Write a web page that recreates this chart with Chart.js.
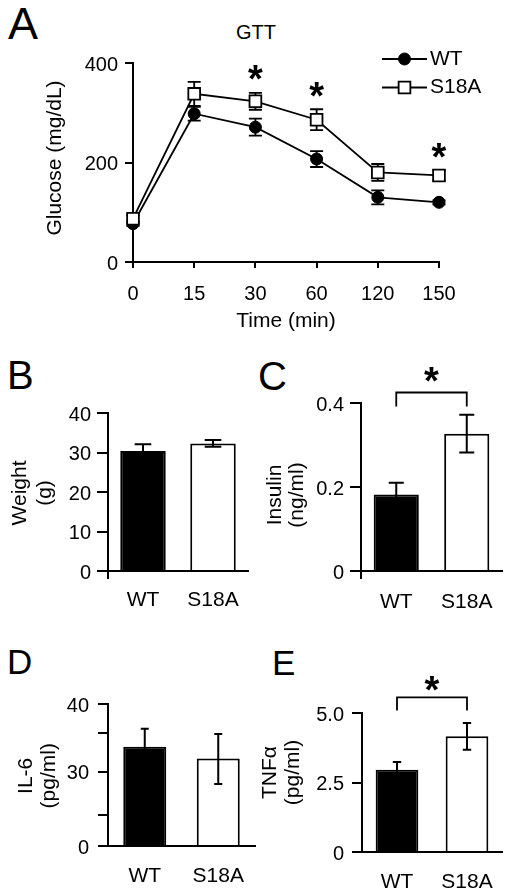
<!DOCTYPE html>
<html><head><meta charset="utf-8">
<script src="https://cdn.jsdelivr.net/npm/chart.js@4.4.1/dist/chart.umd.min.js"></script>
<style>
html,body{margin:0;padding:0;background:#fff;}
body{width:512px;height:889px;position:relative;overflow:hidden;font-family:'Liberation Sans',Arial,sans-serif;}
canvas{position:absolute;}
.lbl{position:absolute;line-height:1;color:#000;white-space:nowrap;}
</style></head><body>
<div class="lbl" style="left:8px;top:1px;font-size:45px">A</div>
<div class="lbl" style="left:7px;top:355px;font-size:40px">B</div>
<div class="lbl" style="left:258px;top:356px;font-size:40px">C</div>
<div class="lbl" style="left:7px;top:644px;font-size:35px">D</div>
<div class="lbl" style="left:272px;top:645px;font-size:35px">E</div>
<div class="lbl" style="left:206px;width:100px;text-align:center;top:22px;font-size:20px">GTT</div>
<script>
// ---- data ----
const timeLabels = ['0', '15', '30', '60', '120', '150'];
const wtGlucose = [77, 298, 271, 207, 130, 120];
const wtGlucoseSem = [5, 14, 17, 16, 14, 4];
const s18aGlucose = [87, 338, 323, 286, 180, 174];
const s18aGlucoseSem = [7, 24, 17, 21, 17, 10];
const glucoseTicks = [0, 200, 400];
const gttSignificant = ['30', '60', '150'];

const groups = ['WT', 'S18A'];
const weight = [30.4, 32.3];
const weightSem = [1.7, 0.85];
const weightTicks = [0, 10, 20, 30, 40];
const weightTickLabels = ['0', '10', '20', '30', '40'];

const insulin = [0.182, 0.327];
const insulinSem = [0.028, 0.045];
const insulinTicks = [0, 0.2, 0.4];
const insulinTickLabels = ['0', '0.2', '0.4'];

const il6 = [33.2, 31.7];
const il6Sem = [2.45, 3.1];
const il6Ticks = [0, 25, 30, 35, 40];
const il6TickLabels = ['0', '', '30', '', '40'];

const tnf = [2.96, 4.16];
const tnfSem = [0.28, 0.48];
const tnfTicks = [0, 2.5, 5];
const tnfTickLabels = ['0', '2.5', '5.0'];

// ---- setup ----
const FONT = "'Liberation Sans', Arial, Helvetica, sans-serif";
Chart.defaults.font.family = FONT;
Chart.defaults.font.size = 20;
Chart.defaults.color = '#000';

const LinearScale = Chart.LinearScale || Chart.registry.getScale('linear');
class SegmentedScale extends LinearScale {
  getPixelForValue(value) {
    if (value === null || isNaN(value)) return NaN;
    const k = this.options.knots, f = this.options.knotFractions;
    let i = 1;
    while (i < k.length - 1 && value > k[i]) i++;
    const dec = f[i - 1] + (value - k[i - 1]) / (k[i] - k[i - 1]) * (f[i] - f[i - 1]);
    return this.getPixelForDecimal(dec);
  }
  getValueForPixel(pixel) {
    const k = this.options.knots, f = this.options.knotFractions;
    const dec = this.getDecimalForPixel(pixel);
    let i = 1;
    while (i < f.length - 1 && dec > f[i]) i++;
    return k[i - 1] + (dec - f[i - 1]) / (f[i] - f[i - 1]) * (k[i] - k[i - 1]);
  }
}
SegmentedScale.id = 'segmented';
SegmentedScale.defaults = LinearScale.defaults;
Chart.register(SegmentedScale);

function drawStar(ctx, x, cy, size) {
  ctx.save();
  ctx.font = 'bold ' + size + 'px ' + FONT;
  ctx.fillStyle = '#000';
  ctx.textAlign = 'center';
  ctx.textBaseline = 'alphabetic';
  const m = ctx.measureText('*');
  const base = cy + (m.actualBoundingBoxAscent - m.actualBoundingBoxDescent) / 2;
  ctx.fillText('*', x, base);
  ctx.restore();
}

function drawErrorBars(chart, o) {
  const ctx = chart.ctx;
  chart.data.datasets.forEach((ds, di) => {
    if (!ds.sem) return;
    const meta = chart.getDatasetMeta(di);
    const ys = chart.scales[meta.yAxisID];
    meta.data.forEach((el, i) => {
      const v = ds.data[i], e = ds.sem[i];
      const x = el.x;
      const yT = ys.getPixelForValue(v + e), yB = ys.getPixelForValue(v - e);
      ctx.save();
      ctx.strokeStyle = '#000';
      ctx.lineWidth = o.lineWidth;
      ctx.beginPath();
      ctx.moveTo(x, yT); ctx.lineTo(x, yB);
      ctx.moveTo(x - o.capHalf, yT); ctx.lineTo(x + o.capHalf, yT);
      ctx.moveTo(x - o.capHalf, yB); ctx.lineTo(x + o.capHalf, yB);
      ctx.stroke();
      ctx.restore();
    });
  });
}
const errorBarsPlugin = {
  id: 'errorBars',
  beforeDatasetsDraw(chart, args, o) { if (o && o.phase === 'before') drawErrorBars(chart, o); },
  afterDatasetsDraw(chart, args, o) { if (o && o.phase === 'after') drawErrorBars(chart, o); }
};

const yTitlePlugin = {
  id: 'yTitle',
  afterDraw(chart, args, o) {
    if (!o || !o.lines) return;
    const ctx = chart.ctx;
    ctx.save();
    ctx.font = o.size + 'px ' + FONT;
    ctx.fillStyle = '#000';
    ctx.textAlign = 'center';
    ctx.textBaseline = 'middle';
    o.lines.forEach((t, i) => {
      ctx.save();
      ctx.translate(o.xs[i], o.y);
      ctx.rotate(-Math.PI / 2);
      ctx.fillText(t, 0, 0);
      ctx.restore();
    });
    ctx.restore();
  }
};

// axis decorations built per chart (closure values, no option resolver involved)
function makeAxisExtrasPlugin(extendLen, minorValues, tickLen) {
  return {
    id: 'axisExtras',
    afterDraw(chart) {
      const a = chart.chartArea, ctx = chart.ctx, ys = chart.scales.y;
      const x = Math.round(a.left);
      ctx.save();
      ctx.strokeStyle = '#000';
      ctx.lineWidth = 2;
      ctx.beginPath();
      if (extendLen > 0) {
        ctx.moveTo(x, a.bottom);
        ctx.lineTo(x, a.bottom + extendLen);
      }
      minorValues.forEach(v => {
        const y = Math.round(ys.getPixelForValue(v));
        ctx.moveTo(x - tickLen, y);
        ctx.lineTo(x, y);
      });
      ctx.stroke();
      ctx.restore();
    }
  };
}

const bracketPlugin = {
  id: 'bracket',
  afterDraw(chart, args, o) {
    if (!o || o.level === undefined) return;
    const ctx = chart.ctx;
    const meta = chart.getDatasetMeta(0);
    const ys = chart.scales.y;
    const x0 = meta.data[0].x, x1 = meta.data[1].x;
    const y = ys.getPixelForValue(o.level);
    ctx.save();
    ctx.strokeStyle = '#000';
    ctx.lineWidth = 1.8;
    ctx.beginPath();
    ctx.moveTo(x0, y + o.legs); ctx.lineTo(x0, y); ctx.lineTo(x1, y); ctx.lineTo(x1, y + o.legs);
    ctx.stroke();
    ctx.restore();
    drawStar(ctx, (x0 + x1) / 2, y - o.starGap, o.starSize);
  }
};

const sigPlugin = {
  id: 'sig',
  afterDraw(chart, args, o) {
    if (!o || !o.labels) return;
    const ds = chart.data.datasets[o.datasetIndex];
    const meta = chart.getDatasetMeta(o.datasetIndex);
    const ys = chart.scales.y;
    o.labels.forEach(lab => {
      const i = chart.data.labels.indexOf(lab);
      const el = meta.data[i];
      const y = ys.getPixelForValue(ds.data[i] + ds.sem[i]) - o.gap;
      drawStar(chart.ctx, el.x, y, o.starSize);
    });
  }
};

function drawMarker(ctx, ds, x, y) {
  ctx.fillStyle = ds.pointBackgroundColor;
  ctx.strokeStyle = ds.pointBorderColor;
  ctx.lineWidth = ds.pointBorderWidth;
  ctx.beginPath();
  if (ds.pointStyle === 'rect') {
    const s = Math.SQRT1_2 * ds.pointRadius;
    ctx.rect(x - s, y - s, 2 * s, 2 * s);
  } else {
    ctx.arc(x, y, ds.pointRadius, 0, Math.PI * 2);
  }
  ctx.fill();
  ctx.stroke();
}
const lineLegendPlugin = {
  id: 'lineLegend',
  afterDraw(chart, args, o) {
    if (!o || !o.ys) return;
    const ctx = chart.ctx;
    chart.data.datasets.forEach((ds, i) => {
      const y = o.ys[i];
      ctx.save();
      ctx.strokeStyle = '#000';
      ctx.lineWidth = ds.borderWidth;
      ctx.beginPath();
      ctx.moveTo(o.x, y); ctx.lineTo(o.x + o.lineLen, y);
      ctx.stroke();
      drawMarker(ctx, ds, o.x + o.lineLen / 2, y);
      ctx.fillStyle = '#000';
      ctx.font = o.size + 'px ' + FONT;
      ctx.textAlign = 'left';
      ctx.textBaseline = 'middle';
      ctx.fillText(ds.label, o.textX, y);
      ctx.restore();
    });
  }
};

function makeCanvas(id, r) {
  const c = document.createElement('canvas');
  c.id = id;
  c.width = r.w; c.height = r.h;
  c.style.left = r.x + 'px'; c.style.top = r.y + 'px';
  c.style.width = r.w + 'px'; c.style.height = r.h + 'px';
  document.body.appendChild(c);
  return c;
}

// ---- Panel A: GTT line chart ----
(function () {
  const r = {x: 0, y: 0, w: 512, h: 340}, a = {l: 133, t: 63, r: 439, b: 262};
  const c = makeCanvas('chartA', r);
  new Chart(c, {
    type: 'line',
    data: {
      labels: timeLabels,
      datasets: [
        {label: 'WT', data: wtGlucose, sem: wtGlucoseSem, order: 1,
          borderColor: '#000', borderWidth: 1.8, tension: 0, fill: false,
          pointStyle: 'circle', pointRadius: 6, pointBackgroundColor: '#000',
          pointBorderColor: '#000', pointBorderWidth: 1},
        {label: 'S18A', data: s18aGlucose, sem: s18aGlucoseSem, order: 0,
          borderColor: '#000', borderWidth: 1.8, tension: 0, fill: false,
          pointStyle: 'rect', pointRadius: 8.3, pointBackgroundColor: '#fff',
          pointBorderColor: '#000', pointBorderWidth: 1.8}
      ]
    },
    options: {
      responsive: false, animation: false, events: [], devicePixelRatio: 1,
      layout: {padding: {left: 0, top: a.t - r.y, right: r.x + r.w - a.r, bottom: 0}},
      scales: {
        x: {
          type: 'category', offset: false,
          grid: {display: true, drawOnChartArea: false, color: '#000', lineWidth: 2, tickLength: 6},
          border: {display: true, color: '#000', width: 2},
          ticks: {color: '#000', font: {size: 20}, padding: 14, autoSkip: false, maxRotation: 0},
          title: {display: true, text: 'Time (min)', color: '#000', font: {size: 21}, padding: {top: 0, bottom: 6}},
          afterFit: s => { s.height = r.y + r.h - a.b; }
        },
        y: {
          min: glucoseTicks[0], max: glucoseTicks[glucoseTicks.length - 1],
          afterBuildTicks: s => { s.ticks = glucoseTicks.map(v => ({value: v})); },
          grid: {display: true, drawOnChartArea: false, color: '#000', lineWidth: 2, tickLength: 8},
          border: {display: true, color: '#000', width: 2},
          ticks: {color: '#000', font: {size: 20}, padding: 7, autoSkip: false, labelOffset: 2},
          afterFit: s => { s.width = a.l - r.x; }
        }
      },
      plugins: {
        legend: {display: false}, tooltip: {enabled: false},
        errorBars: {phase: 'before', capHalf: 6.5, lineWidth: 1.8},
        yTitle: {lines: ['Glucose (mg/dL)'], xs: [55 - r.x], y: 158 - r.y, size: 21},
        sig: {labels: gttSignificant, datasetIndex: 1, gap: 20, starSize: 38},
        lineLegend: {x: 382 - r.x, ys: [59 - r.y, 87.5 - r.y], lineLen: 45, textX: 430 - r.x, size: 21}
      }
    },
    plugins: [errorBarsPlugin, yTitlePlugin, sigPlugin, lineLegendPlugin]
  });
})();

// ---- bar panels ----
function barPanel(p) {
  const r = p.rect, a = p.area;
  const c = makeCanvas(p.id, r);
  const minorValues = p.ticks.filter((v, i) => String(p.tickLabels[i]).trim() === '');
  return new Chart(c, {
    type: 'bar',
    data: {
      labels: groups,
      datasets: [{data: p.values, sem: p.sem, backgroundColor: ['#000', '#fff'],
        borderColor: '#000', borderWidth: 2, borderSkipped: 'start',
        barPercentage: p.barPct, categoryPercentage: 1}]
    },
    options: {
      responsive: false, animation: false, events: [], devicePixelRatio: 1,
      layout: {padding: {left: 0, top: a.t - r.y, right: r.x + r.w - a.r, bottom: 0}},
      scales: {
        x: {
          grid: {display: false},
          border: {display: true, color: '#000', width: 2},
          ticks: {color: '#000', font: {size: 21}, padding: p.xPad, autoSkip: false, maxRotation: 0},
          afterFit: s => { s.height = r.y + r.h - a.b; }
        },
        y: {
          type: p.yType || 'linear',
          min: p.ticks[0], max: p.ticks[p.ticks.length - 1],
          knots: p.ticks, knotFractions: p.knotFractions,
          afterBuildTicks: s => { s.ticks = p.ticks.map(v => ({value: v})); },
          grid: {display: true, drawOnChartArea: false, color: '#000', lineWidth: 2, tickLength: p.yTickLen},
          border: {display: true, color: '#000', width: 2},
          ticks: {color: '#000', font: {size: 20}, padding: p.yPad, autoSkip: false, labelOffset: 2,
            callback: (v) => { const j = p.ticks.indexOf(v); return j >= 0 ? p.tickLabels[j] : ''; }},
          afterFit: s => { s.width = a.l - r.x; }
        }
      },
      plugins: {
        legend: {display: false}, tooltip: {enabled: false},
        errorBars: {phase: 'after', capHalf: p.capHalf, lineWidth: 2},
        yTitle: {lines: p.title, xs: p.titleXs.map(x => x - r.x), y: p.titleY - r.y, size: 21},
        bracket: p.bracket || {}
      }
    },
    plugins: [errorBarsPlugin, yTitlePlugin, makeAxisExtrasPlugin(p.ext || 0, minorValues, p.yTickLen), bracketPlugin]
  });
}

barPanel({id: 'chartB', rect: {x: 0, y: 345, w: 256, h: 275}, area: {l: 108, t: 413, r: 248, b: 571},
  values: weight, sem: weightSem, ticks: weightTicks, tickLabels: weightTickLabels,
  yTickLen: 11, yPad: 6, xPad: 9, barPct: 0.65, capHalf: 8.3,
  title: ['Weight', '(g)'], titleXs: [20, 45], titleY: 493, ext: 8});

barPanel({id: 'chartC', rect: {x: 256, y: 345, w: 256, h: 275}, area: {l: 361, t: 403, r: 502, b: 571},
  values: insulin, sem: insulinSem, ticks: insulinTicks, tickLabels: insulinTickLabels,
  yTickLen: 11, yPad: 6, xPad: 10.5, barPct: 0.64, capHalf: 7.5,
  title: ['Insulin', '(ng/ml)'], titleXs: [275, 297.5], titleY: 495, ext: 8,
  bracket: {level: 0.425, legs: 14, starGap: 17.7, starSize: 38}});

barPanel({id: 'chartD', rect: {x: 0, y: 625, w: 256, h: 264}, area: {l: 108, t: 704, r: 255, b: 846},
  values: il6, sem: il6Sem, ticks: il6Ticks, tickLabels: il6TickLabels,
  yType: 'segmented', knotFractions: [0, 0.217, 0.523, 0.799, 1],
  yTickLen: 10, yPad: 9, xPad: 9.7, barPct: 0.585, capHalf: 4,
  title: ['IL-6', '(pg/ml)'], titleXs: [25.8, 49], titleY: 775.8});

barPanel({id: 'chartE', rect: {x: 256, y: 625, w: 256, h: 264}, area: {l: 362, t: 713, r: 502, b: 852},
  values: tnf, sem: tnfSem, ticks: tnfTicks, tickLabels: tnfTickLabels,
  yTickLen: 10, yPad: 8, xPad: 9.4, barPct: 0.61, capHalf: 4.2,
  title: ['TNFα', '(pg/ml)'], titleXs: [270, 293.3], titleY: 772.5,
  bracket: {level: 5.56, legs: 13, starGap: 14.4, starSize: 38}});
</script>
</body></html>
